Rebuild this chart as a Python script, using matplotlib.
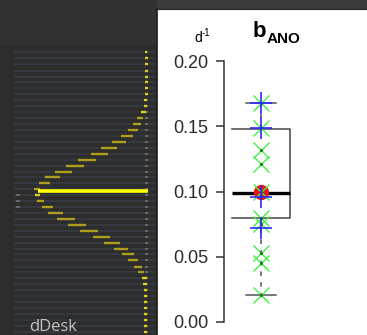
"""
Screenshot-style figure: dark dDesk scan panel on the left,
boxplot of b_ANO (d^-1) on the right.
"""
import numpy as np
import matplotlib.pyplot as plt
from matplotlib.patches import Rectangle

# ---- left panel: scan rows (pixel rows) and yellow trace position / dash length
row_y = [52, 58, 64, 71, 77, 82, 88, 94, 100, 106, 112, 118, 124, 130, 136,
         142, 148, 154, 160, 166, 172, 177, 183, 189, 195, 201, 207, 213,
         219, 225, 231, 237, 243, 249, 254, 260, 267, 272, 278, 284, 290,
         296, 302, 308, 314, 320, 326, 332]
trace_x = [146, 146, 146, 146, 146, 146, 146, 146, 145, 145, 143, 140, 137,
           133, 127, 119, 109, 99, 87, 75, 63, 52, 44, 37, 37, 40, 47, 55,
           66, 77, 89, 101, 112, 121, 128, 133, 138, 141, 144, 145, 145,
           145, 145, 145, 145, 145, 145, 145]
dash_len = [2, 3, 3, 3, 3, 3, 3, 3, 3, 3, 5, 6, 8, 10, 12, 14, 16, 17, 18,
            18, 17, 15, 11, 6, 5, 7, 11, 15, 18, 18, 18, 17, 16, 14, 12, 10,
            8, 6, 5, 4, 3, 3, 3, 3, 3, 3, 3, 3]
peak_y = 191

# ---- right panel: b_ANO values (d^-1)
box_q1 = 0.080
box_med = 0.099
box_q3 = 0.148
whisker_lo = 0.021
whisker_hi = 0.168
mean_val = 0.100
green_vals = [0.168, 0.149, 0.132, 0.121, 0.100, 0.080, 0.075, 0.053,
              0.045, 0.021]
blue_vals = [0.168, 0.149, 0.096, 0.072]
y_ticks = [0.00, 0.05, 0.10, 0.15, 0.20]

W, H = 367, 335
fig = plt.figure(figsize=(W / 100, H / 100), dpi=100)
fig.patch.set_facecolor('#2d2d2d')

# background axes in pixel coordinates
bg = fig.add_axes([0, 0, 1, 1])
bg.set_xlim(0, W)
bg.set_ylim(H, 0)
bg.axis('off')
bg.add_patch(Rectangle((0, 0), W, 45, color='#323232', lw=0))
bg.add_patch(Rectangle((157, 0), W - 157, 9, color='#3b3b3b', lw=0))
bg.add_patch(Rectangle((157, 9), W - 157, H - 9, color='white', lw=0))
bg.plot([157, W], [9, 9], color='#222222', lw=0.8)
bg.plot([157, 157], [9, H], color='#1e1e1e', lw=1.2)

for y, x, L in zip(row_y, trace_x, dash_len):
    bg.plot([14, 155], [y, y], color='#353b41', lw=1.3, zorder=2,
            solid_capstyle='butt')
    bg.plot([145, 148], [y, y], color='#6e6e6e', lw=1.3, zorder=3,
            solid_capstyle='butt')
    c = '#ddd212' if L <= 5 else '#ad9e1e'
    bg.plot([x - L / 2, x + L / 2], [y, y], color=c, lw=1.7, zorder=4,
            solid_capstyle='butt')

for y in [195, 201, 207]:
    bg.plot([17, 19], [y, y], color='#6e6e6e', lw=1.3, zorder=3)

bg.plot([38, 148], [peak_y, peak_y], color='#ffff00', lw=2.6, zorder=5,
        solid_capstyle='butt')
bg.text(29, 331, 'dDesk', color='#c4c4c4', fontsize=12,
        family='Open Sans', va='baseline', ha='left')

# titles
bg.text(253, 37, 'b', fontsize=16, fontweight='bold',
        family='Liberation Sans', color='black', va='baseline')
bg.text(267, 43, 'ANO', fontsize=11, fontweight='bold',
        family='Liberation Sans', color='black', va='baseline')
bg.text(194, 42, 'd', fontsize=10, family='Liberation Sans',
        color='black', va='baseline')
bg.text(202, 36, '-1', fontsize=7, family='Liberation Sans',
        color='black', va='baseline')

# boxplot axes
ax_l, ax_r, ax_b, ax_t = 224, W, 322, 61
ax = fig.add_axes([ax_l / W, (H - ax_b) / H, (ax_r - ax_l) / W,
                   (ax_b - ax_t) / H])
ax.patch.set_alpha(0)

xc = (261 - ax_l) / (ax_r - ax_l)
stats = [dict(med=box_med, q1=box_q1, q3=box_q3, whislo=whisker_lo,
              whishi=whisker_hi, fliers=[], label='')]
art = ax.bxp(stats, positions=[xc], widths=58 / (ax_r - ax_l),
             capwidths=30 / (ax_r - ax_l), showfliers=False,
             manage_ticks=False,
             boxprops=dict(color='#444444', lw=1.1),
             medianprops=dict(color='black', lw=2.4),
             whiskerprops=dict(color='#555555', lw=1.1, ls=(0, (3, 4))),
             capprops=dict(color='#555555', lw=1.1))
# box is left open on its left side
box = art['boxes'][0]
bx, by = box.get_data()
box.set_data(bx[:4], by[:4])

ax.plot([xc], [mean_val], 'o', color='#ee1111', ms=10, zorder=5)
ax.plot([xc] * len(green_vals), green_vals, 'x', color='#44f044', ms=12,
        mew=1.0, zorder=6, ls='none')
ax.plot([xc] * len(green_vals), green_vals, '.', color='#137713', ms=2.5,
        zorder=6, ls='none')
ax.plot([xc] * len(blue_vals), blue_vals, '+', color='#2b2bff', ms=16,
        mew=1.2, zorder=7, ls='none')

ax.set_xlim(0, 1)
ax.set_ylim(0, 0.2)
for s in ['top', 'right', 'bottom']:
    ax.spines[s].set_visible(False)
ax.spines['left'].set_color('#333333')
ax.spines['left'].set_linewidth(1.1)
ax.set_xticks([])
ax.set_yticks(y_ticks)
ax.set_yticklabels(['%.2f' % v for v in y_ticks])
ax.tick_params(axis='y', length=5.8, width=1.1, color='#333333', pad=5.5,
               labelsize=13, labelcolor='#2a2a2a')
for lab in ax.get_yticklabels():
    lab.set_family('Liberation Sans')

fig.savefig('out.png', dpi=100, facecolor=fig.get_facecolor())
